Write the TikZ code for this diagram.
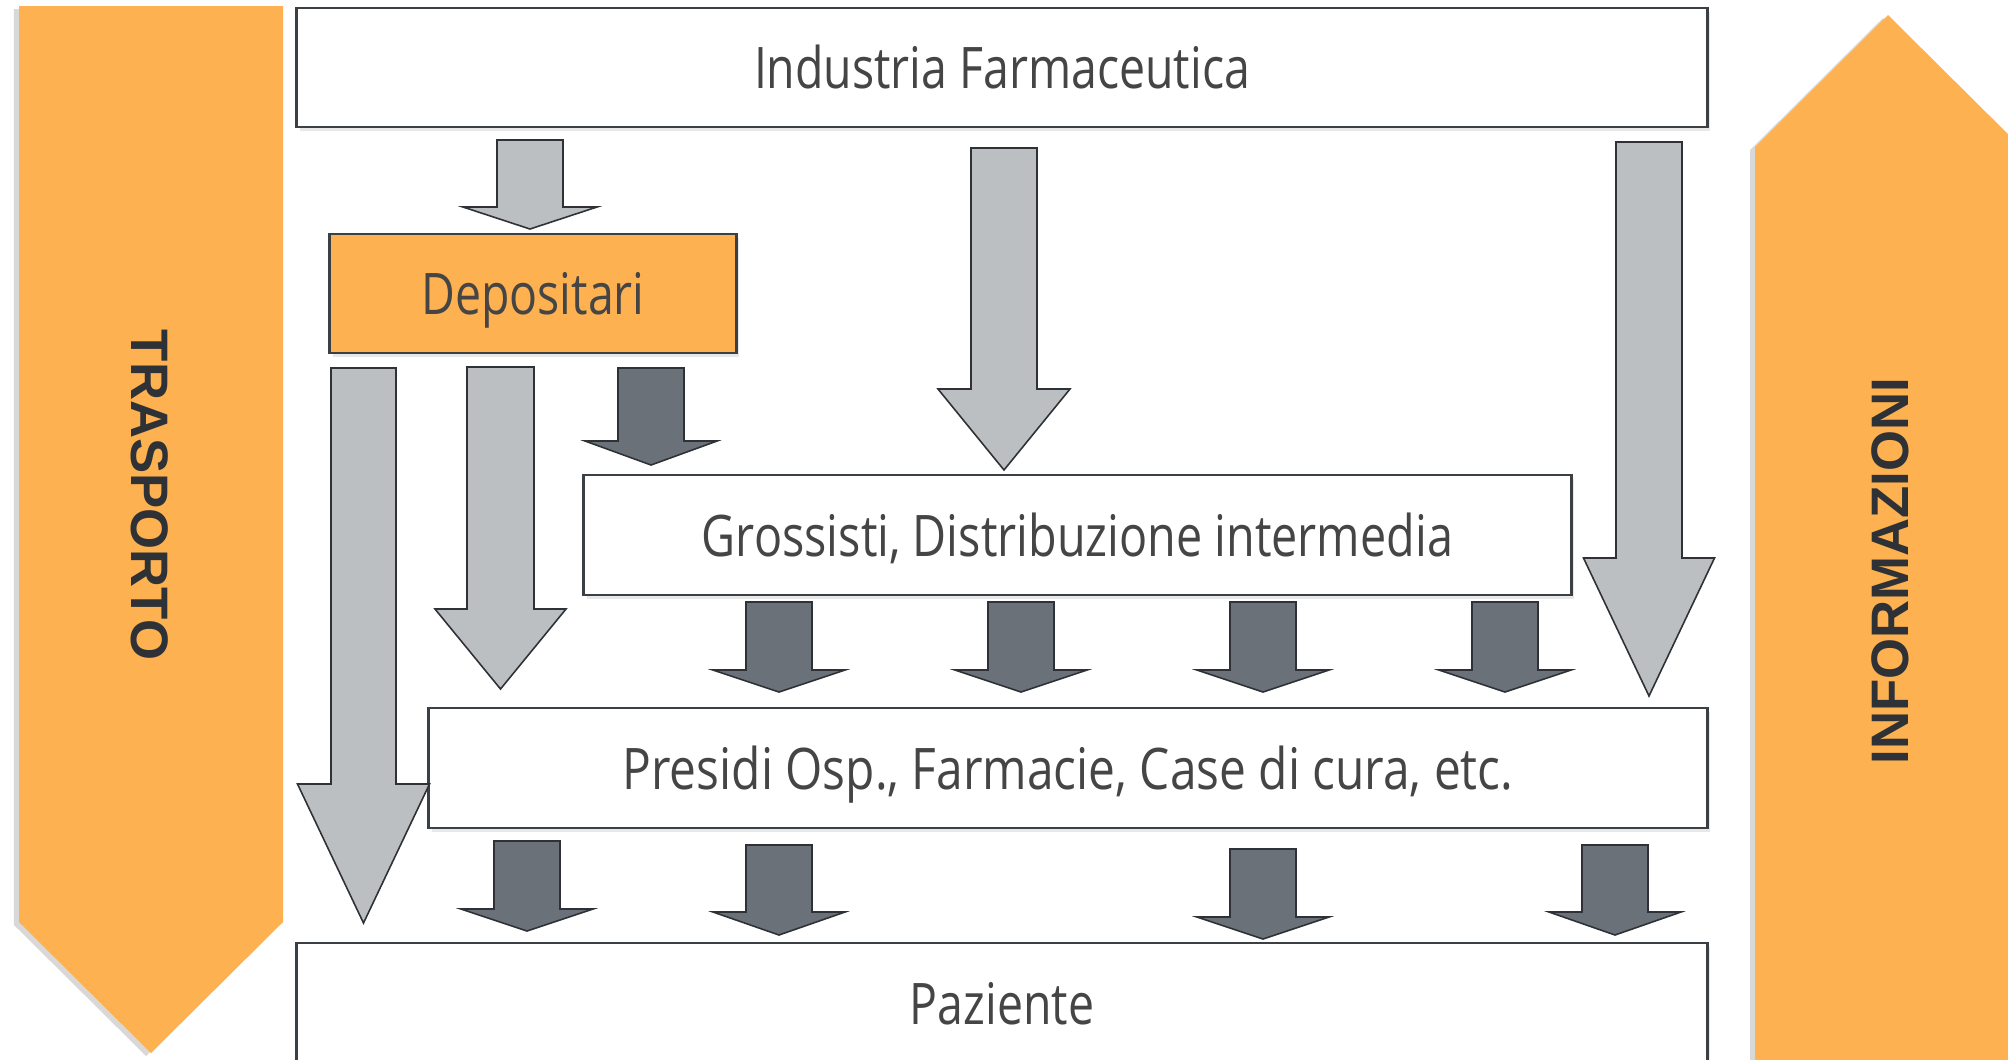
\documentclass[tikz,border=0pt]{standalone}
\usepackage{fontspec}
\setmainfont{Open Sans}
\newfontfamily\bandfont{Liberation Sans}
\usetikzlibrary{shadows}
\definecolor{orangeC}{HTML}{FDB150}
\definecolor{lightA}{HTML}{BBBFC1}
\definecolor{darkA}{HTML}{6B7178}
\definecolor{edgeC}{HTML}{3B4045}
\definecolor{txtC}{HTML}{454545}
\definecolor{labC}{HTML}{2E3236}
\newcommand{\narrowtxt}[2]{\scalebox{#1}[1]{#2}}
\newcommand{\blockarr}[7]{\draw[#1] ({#2-#6},#3) -- ({#2+#6},#3) -- ({#2+#6},#4) -- ({#2+#7},#4) -- (#2,#5) -- ({#2-#7},#4) -- ({#2-#6},#4) -- cycle;}
\begin{document}
\begin{tikzpicture}[x=0.01cm,y=-0.01cm,
  box/.style={draw=edgeC, line width=0.8pt, fill=white,
    drop shadow={shadow xshift=0.03cm, shadow yshift=-0.04cm, opacity=0.18},
    inner sep=0pt, text=txtC, font=\fontsize{16.3}{18}\selectfont,
    text height=0.42cm, text depth=0cm},
  larr/.style={draw=labC, line width=0.45pt, fill=lightA},
  darr/.style={draw=labC, line width=0.45pt, fill=darkA},
  band/.style={fill=orangeC,
    drop shadow={shadow xshift=-0.05cm, shadow yshift=-0.03cm, opacity=0.3}},
  bandtxt/.style={text=labC, font=\bandfont\bfseries\fontsize{15}{18}\selectfont, inner sep=0pt}]
\useasboundingbox (0,0) rectangle (2008,1059);
\fill[white] (0,0) rectangle (2008,1059);
\clip (0,0) rectangle (2008,1059);

% side bands
\path[band] (19,6) -- (283,6) -- (283,922) -- (151,1053) -- (19,922) -- cycle;
\path[band] (1755,1100) -- (1755,147) -- (1888,15) -- (2021,147) -- (2021,1100) -- cycle;
\node[bandtxt, rotate=-90] (trasp) at (150,495) {TRASPORTO};
\node[bandtxt, rotate=90] (info) at (1890,571) {INFORMAZIONI};

% boxes
\node[box, minimum width=14.10cm, minimum height=1.19cm] (ind) at (1002,67.5) {\narrowtxt{0.81}{Industria Farmaceutica}};
\node[box, fill=orangeC, minimum width=4.06cm, minimum height=1.19cm] (dep) at (533,293.5) {\narrowtxt{0.81}{Depositari}};
\node[box, minimum width=9.87cm, minimum height=1.20cm] (gro) at (1077.5,535) {\narrowtxt{0.815}{Grossisti, Distribuzione intermedia}};
\node[box, minimum width=12.78cm, minimum height=1.20cm] (pre) at (1068,768) {\narrowtxt{0.835}{Presidi Osp., Farmacie, Case di cura, etc.}};
\node[box, minimum width=14.10cm, minimum height=1.20cm] (paz) at (1002,1003) {\narrowtxt{0.81}{Paziente}};

% light grey arrows
\blockarr{larr}{530}{140}{207}{229}{33}{67}
\blockarr{larr}{1004}{148}{389}{470}{33}{66}
\blockarr{larr}{1649}{142}{558}{696}{33}{65.5}
\blockarr{larr}{363.5}{368}{784}{923}{32.5}{66}
\blockarr{larr}{500.5}{367}{609}{689}{33.5}{65.5}

% dark grey arrows
\blockarr{darr}{651}{368}{441}{465}{33}{66}
\blockarr{darr}{779}{602}{670}{692}{33}{66}
\blockarr{darr}{1021}{602}{670}{692}{33}{66}
\blockarr{darr}{1263}{602}{670}{692}{33}{66}
\blockarr{darr}{1505}{602}{670}{692}{33}{66}
\blockarr{darr}{527}{841}{909}{931}{33}{66}
\blockarr{darr}{779}{845}{912}{935}{33}{66}
\blockarr{darr}{1263}{849}{917}{939}{33}{66}
\blockarr{darr}{1615}{845}{912}{935}{33}{66}
\end{tikzpicture}
\end{document}
